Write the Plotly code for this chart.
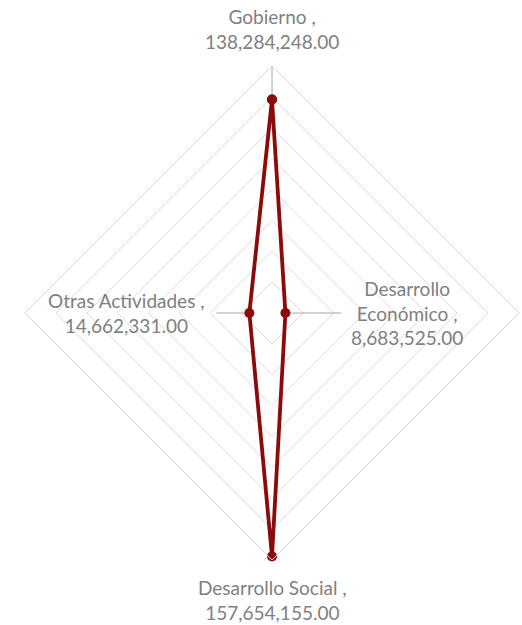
import plotly.graph_objects as go

categories = ["Gobierno", "Desarrollo Económico", "Desarrollo Social", "Otras Actividades"]
values = [138284248.00, 8683525.00, 157654155.00, 14662331.00]
value_labels = ["138,284,248.00", "8,683,525.00", "157,654,155.00", "14,662,331.00"]

W, H = 522, 625
cx, cy, R = 272, 313, 247
RMAX = 160e6

fig = go.Figure()

# leader lines (radial, from point outward)
leader_end = [168e6, 45e6, 157.7e6, 36e6]
for c, v, e in zip(categories, values, leader_end):
    if e > v:
        fig.add_trace(go.Scatterpolar(
            r=[v, e], theta=[c, c], mode="lines",
            line=dict(color="#a6a6a6", width=1),
            hoverinfo="skip", showlegend=False, cliponaxis=False))

fig.add_trace(go.Scatterpolar(
    r=values + [values[0]], theta=categories + [categories[0]],
    mode="lines+markers",
    line=dict(color="#8b0a0a", width=3.8),
    marker=dict(color="#8b0a0a", size=10),
    showlegend=False, cliponaxis=False))

fig.update_layout(
    width=W, height=H,
    margin=dict(l=0, r=0, t=0, b=0),
    paper_bgcolor="white",
    polar=dict(
        domain=dict(x=[(cx - R) / W, (cx + R) / W],
                    y=[1 - (cy + R) / H, 1 - (cy - R) / H]),
        bgcolor="white",
        gridshape="linear",
        radialaxis=dict(range=[0, RMAX], dtick=20e6, showticklabels=False,
                        ticks="", showline=False, gridcolor="#d9d9d9", gridwidth=1),
        angularaxis=dict(rotation=90, direction="clockwise", showticklabels=False,
                         ticks="", showgrid=False, showline=True,
                         linecolor="#d9d9d9", linewidth=1),
    ),
)

font = dict(family="Lato, Open Sans, sans-serif", size=19, color="#808080")
label_specs = [
    ("Gobierno ,<br>" + value_labels[0], 272, 29, "center"),
    ("Desarrollo<br>Económico ,<br>" + value_labels[1], 407, 313, "center"),
    ("Desarrollo Social ,<br>" + value_labels[2], 272, 600, "center"),
    ("Otras Actividades ,<br>" + value_labels[3], 126, 313, "center"),
]
for txt, x, y, al in label_specs:
    fig.add_annotation(text=txt, x=x / W, y=1 - y / H, xref="paper", yref="paper",
                       showarrow=False, align=al, font=font,
                       xanchor="center", yanchor="middle")

fig.write_html("out.html", config={"displayModeBar": False},
               post_script="document.body.style.margin='0';")
